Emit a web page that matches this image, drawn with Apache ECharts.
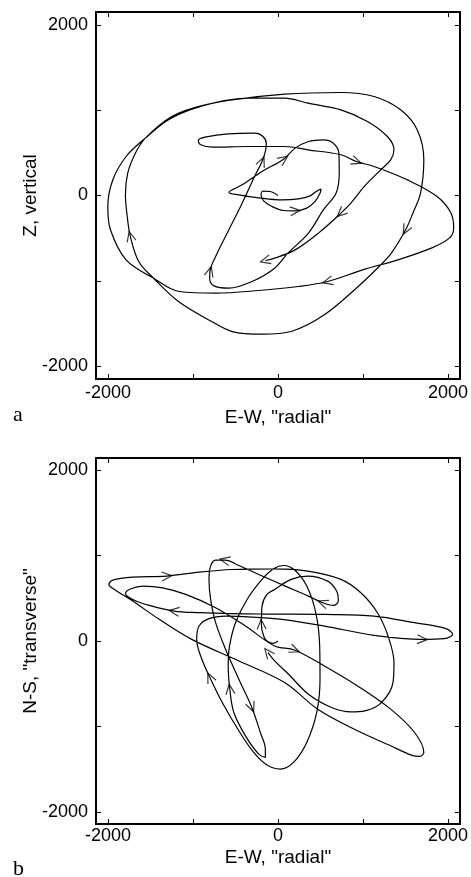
<!DOCTYPE html>
<html><head><meta charset="utf-8">
<script src="https://cdn.jsdelivr.net/npm/echarts@6/dist/echarts.min.js"></script>
<style>html,body{margin:0;padding:0;background:#fff}#c{width:471px;height:877px}</style>
</head><body><div id="c"></div>
<script>
// ---- data ----
const tickValues = [-2000, -1000, 0, 1000, 2000];
const tickLabels = [-2000, 0, 2000];
const xTitle = 'E-W, "radial"';
const topYTitle = 'Z, vertical';
const bottomYTitle = 'N-S, "transverse"';
const panelLetters = ['a', 'b'];

// panel a: E-W (x) vs Z (y), in time order
const topEW = [0,-90,-176,-199,-168,-70,66,203,339,437,
  495,507,468,378,242,47,-226,-460,-577,-421,
  -187,66,203,359,534,651,717,721,683,534,
  359,117,-39,-304,-577,-753,-803,-800,-733,-577,
  -421,-265,-187,-148,-137,-176,-273,-585,-858,-936,
  -909,-772,-343,78,351,741,924,1131,1521,1872,
  2036,2067,2016,1802,1412,1022,585,242,-226,-733,
  -1162,-1463,-1786,-1970,-2001,-1942,-1786,-1560,-1287,-975,
  -585,78,741,1131,1443,1638,1716,1677,1587,1502,
  1334,1190,944,546,164,-187,-538,-780,-1170,-1463,
  -1638,-1736,-1775,-1794,-1767,-1677,-1560,-1248,-858,-351,
  78,351,741,1053,1287,1365,1326,1209,1014,858,
  741,476,203,-39,-148];
const topZ = [0,47,51,8,-62,-129,-176,-180,-148,-70,
  27,74,59,-4,-39,-51,-27,8,35,125,
  281,426,555,633,652,613,496,262,27,-168,
  -441,-676,-852,-1008,-1086,-1059,-969,-891,-715,-402,
  -90,242,398,516,605,691,730,723,684,645,
  594,566,574,574,535,477,398,340,184,-12,
  -207,-383,-500,-617,-754,-863,-1008,-1066,-1113,-1144,
  -1125,-969,-754,-402,-129,184,457,672,887,1023,
  1113,1187,1207,1160,1004,769,418,27,-207,-402,
  -676,-832,-1066,-1398,-1590,-1625,-1594,-1476,-1242,-969,
  -773,-480,-227,8,262,496,672,926,1062,1141,
  1141,1082,1004,867,691,535,418,301,105,-90,
  -207,-441,-637,-734,-762];
const topArrowIdx = [7, 21, 37, 42, 56, 66, 89, 101, 120, 124];

// panel b: E-W (x) vs N-S (y), in time order
const bottomEW = [0,-51,-129,-168,-195,-187,-129,-39,156,351,
  585,690,710,651,527,359,86,-226,-460,-624,
  -733,-792,-811,-792,-733,-616,-460,-308,-207,-148,
  -148,-226,-382,-519,-566,-585,-569,-499,-363,-187,
  -51,66,203,339,445,491,495,456,339,183,
  27,-129,-285,-460,-655,-800,-909,-956,-928,-811,
  -616,-304,47,546,1131,1697,1958,2055,1977,1607,
  1131,554,-31,-538,-928,-1221,-1513,-1708,-1794,-1728,
  -1591,-1357,-1084,-733,-382,-39,195,546,936,1326,
  1607,1716,1665,1568,1326,936,468,78,-460,-1014,
  -1396,-1708,-1923,-1989,-1942,-1708,-1307,-928,-538,-39,
  351,741,975,1170,1295,1365,1353,1217,1022,858,
  632,359,125,-39,-117];
const bottomNS = [0,-27,0,58,195,408,545,603,720,759,
  700,584,467,416,447,525,642,778,883,945,
  945,875,720,486,214,-97,-447,-774,-1070,-1264,
  -1362,-1323,-1109,-836,-564,-292,-58,214,486,720,
  844,883,825,642,331,-58,-447,-836,-1186,-1420,
  -1498,-1451,-1303,-1050,-720,-428,-175,19,175,261,
  292,280,253,175,66,19,27,78,144,214,
  292,311,315,319,331,350,416,486,556,611,
  642,622,545,389,175,-58,-105,-292,-525,-797,
  -1070,-1303,-1350,-1334,-1225,-1050,-797,-486,-233,19,
  253,467,603,661,712,747,759,805,836,844,
  817,720,564,331,58,-253,-486,-720,-817,-829,
  -778,-622,-389,-233,-136];
const bottomArrowIdx = [4, 14, 19, 27, 34, 55, 65, 75, 86, 106, 124];

// ---- chart ----
const FONT = 'Liberation Sans';
const zip = (xs, ys) => xs.map((x, i) => [x, ys[i]]);
const topPts = zip(topEW, topZ);
const bottomPts = zip(bottomEW, bottomNS);
const plain = v => String(v);

function xAxes(gi, range, margin, gap) {
  const common = {
    type: 'value', gridIndex: gi, min: range[0], max: range[1],
    axisLine: { show: true, onZero: false, lineStyle: { color: '#000', width: 2 } },
    axisTick: { show: true, inside: true, length: 5, customValues: tickValues, lineStyle: { color: '#000', width: 1 } },
    splitLine: { show: false }
  };
  return [
    Object.assign({}, common, {
      position: 'bottom',
      axisLabel: { customValues: tickLabels, formatter: plain, margin: margin, color: '#000', fontSize: 18, fontFamily: FONT },
      name: xTitle, nameLocation: 'middle', nameGap: gap, nameMoveOverlap: false,
      nameTextStyle: { color: '#000', fontSize: 19, fontFamily: FONT }
    }),
    Object.assign({}, common, { position: 'top', axisLabel: { show: false } })
  ];
}
function yAxes(gi, range, title, gap) {
  const common = {
    type: 'value', gridIndex: gi, min: range[0], max: range[1],
    axisLine: { show: true, onZero: false, lineStyle: { color: '#000', width: 2 } },
    axisTick: { show: true, inside: true, length: 5, customValues: tickValues, lineStyle: { color: '#000', width: 1 } },
    splitLine: { show: false }
  };
  return [
    Object.assign({}, common, {
      position: 'left',
      axisLabel: { customValues: tickLabels, formatter: plain, margin: 8, color: '#000', fontSize: 18, fontFamily: FONT },
      name: title, nameLocation: 'middle', nameGap: gap, nameRotate: 90, nameMoveOverlap: false,
      nameTextStyle: { color: '#000', fontSize: 19, fontFamily: FONT }
    }),
    Object.assign({}, common, { position: 'right', axisLabel: { show: false } })
  ];
}

const ARROW = 'path://M0,0 L10,4.5 L0,9';
function arrowSeries(xi, yi, pts, idx, rot) {
  return {
    type: 'scatter', xAxisIndex: xi, yAxisIndex: yi, silent: true, z: 5,
    symbol: ARROW, symbolSize: [10, 9], symbolKeepAspect: false,
    itemStyle: { color: 'none', borderColor: '#000', borderWidth: 1.2 },
    data: idx.map((i, k) => ({ value: pts[i], symbolRotate: rot ? rot[k] : 0 }))
  };
}
function lineSeries(xi, yi, pts) {
  return {
    type: 'line', xAxisIndex: xi, yAxisIndex: yi, data: pts, showSymbol: false,
    smooth: 0.35, silent: true, lineStyle: { color: '#000', width: 1.2 }, z: 3
  };
}

const chart = echarts.init(document.getElementById('c'), null, { renderer: 'canvas' });
function build(rotTop, rotBottom) {
  return {
    animation: false,
    backgroundColor: '#fff',
    grid: [
      { left: 96, top: 12, width: 366, height: 367 },
      { left: 96, top: 458, width: 366, height: 366 }
    ],
    xAxis: xAxes(0, [-2140, 2140], 5, 29).concat(xAxes(1, [-2140, 2140], 3, 24)),
    yAxis: yAxes(0, [-2150, 2150], topYTitle, 56).concat(yAxes(1, [-2140, 2140], bottomYTitle, 56)),
    series: [
      lineSeries(0, 0, topPts),
      arrowSeries(0, 0, topPts, topArrowIdx, rotTop),
      lineSeries(2, 2, bottomPts),
      arrowSeries(2, 2, bottomPts, bottomArrowIdx, rotBottom)
    ],
    graphic: [
      { type: 'text', left: 13, top: 404, style: { text: panelLetters[0], font: '22px "Liberation Serif"', fill: '#000' } },
      { type: 'text', left: 13, top: 858, style: { text: panelLetters[1], font: '22px "Liberation Serif"', fill: '#000' } }
    ]
  };
}
chart.setOption(build(null, null));

function rotations(gi, pts, idx) {
  return idx.map(i => {
    const a = pts[Math.max(0, i - 1)], b = pts[Math.min(pts.length - 1, i + 1)];
    const pa = chart.convertToPixel({ gridIndex: gi }, a);
    const pb = chart.convertToPixel({ gridIndex: gi }, b);
    return Math.atan2(-(pb[1] - pa[1]), pb[0] - pa[0]) * 180 / Math.PI;
  });
}
chart.setOption(build(rotations(0, topPts, topArrowIdx), rotations(1, bottomPts, bottomArrowIdx)));
</script></body></html>
